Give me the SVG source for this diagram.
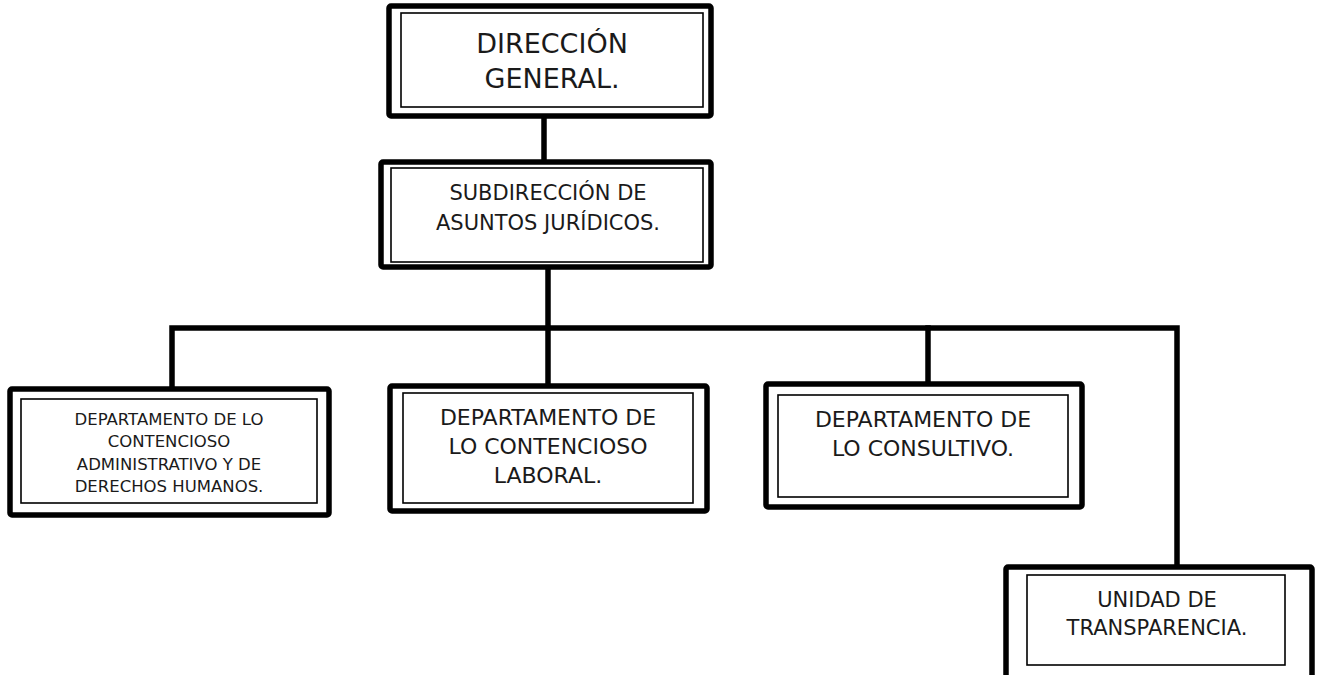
<svg xmlns="http://www.w3.org/2000/svg" width="1319" height="675" viewBox="0 0 1319 675">
<style>
.outer{fill:#fff;stroke:#000;stroke-width:5.5}
.inner{fill:none;stroke:#000;stroke-width:1.6}
.t{font-family:"DejaVu Sans",sans-serif;fill:#1a1a1a;text-anchor:middle}
.c{stroke:#000;stroke-width:5.5;fill:none;stroke-linecap:square}
</style>
<rect width="1319" height="675" fill="#fff"/>
<g id="connectors">
<line class="c" x1="544" y1="118" x2="544" y2="160"/>
<line class="c" x1="548" y1="268" x2="548" y2="383"/>
<polyline class="c" points="172,388 172,328 1177,328 1177,566"/>
<line class="c" x1="928" y1="328" x2="928" y2="383"/>
</g>
<g id="n1">
<rect class="outer" x="389" y="6" width="322" height="110" rx="2"/>
<rect class="inner" x="401" y="13" width="302" height="94"/>
<text class="t" x="552" y="53" font-size="27">DIRECCIÓN</text>
<text class="t" x="552" y="88" font-size="27">GENERAL.</text>
</g>
<g id="n2">
<rect class="outer" x="381" y="162" width="330" height="105" rx="2"/>
<rect class="inner" x="391" y="168" width="312" height="94"/>
<text class="t" x="548" y="200" font-size="21">SUBDIRECCIÓN DE</text>
<text class="t" x="548" y="230" font-size="21">ASUNTOS JURÍDICOS.</text>
</g>
<g id="n3">
<rect class="outer" x="10" y="389" width="319" height="126" rx="2"/>
<rect class="inner" x="21" y="399" width="296" height="104"/>
<text class="t" x="169" y="425" font-size="16.5">DEPARTAMENTO DE LO</text>
<text class="t" x="169" y="447" font-size="16.5">CONTENCIOSO</text>
<text class="t" x="169" y="470" font-size="16.5">ADMINISTRATIVO Y DE</text>
<text class="t" x="169" y="492" font-size="16.5">DERECHOS HUMANOS.</text>
</g>
<g id="n4">
<rect class="outer" x="390" y="386" width="317" height="125" rx="2"/>
<rect class="inner" x="403" y="393" width="290" height="110"/>
<text class="t" x="548" y="425" font-size="22">DEPARTAMENTO DE</text>
<text class="t" x="548" y="454" font-size="22">LO CONTENCIOSO</text>
<text class="t" x="548" y="483" font-size="22">LABORAL.</text>
</g>
<g id="n5">
<rect class="outer" x="766" y="384" width="316" height="123" rx="2"/>
<rect class="inner" x="778" y="395" width="290" height="102"/>
<text class="t" x="923" y="427" font-size="22">DEPARTAMENTO DE</text>
<text class="t" x="923" y="456" font-size="22">LO CONSULTIVO.</text>
</g>
<g id="n6">
<rect class="outer" x="1006" y="567" width="306" height="120" rx="2"/>
<rect class="inner" x="1027" y="575" width="258" height="90"/>
<text class="t" x="1157" y="607" font-size="21">UNIDAD DE</text>
<text class="t" x="1157" y="635" font-size="21">TRANSPARENCIA.</text>
</g>
</svg>
